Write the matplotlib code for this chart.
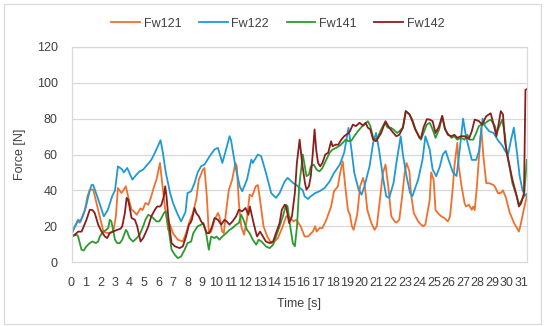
import matplotlib
matplotlib.use("Agg")
import matplotlib.pyplot as plt
from matplotlib.patches import Rectangle

plt.rcParams["font.family"] = ["Liberation Sans", "DejaVu Sans"]

# ---- data (time [s], force [N]) ----
t_fw121 = [0, 0.4, 0.57, 0.92, 1.1, 1.26, 1.5, 1.72, 2.0, 2.2, 2.5, 2.75, 2.9, 3.06, 3.2, 3.45,
           3.75, 3.9, 4.14, 4.3, 4.5, 4.76, 4.9, 5.1, 5.3, 5.5, 5.7, 5.86, 6.1, 6.28, 6.44, 6.67,
           6.78, 7.0, 7.33, 7.68, 7.9, 8.14, 8.37, 8.6, 8.78, 9.06, 9.17, 9.33, 9.47, 9.63, 9.86,
           10.1, 10.2, 10.39, 10.5, 10.67, 10.85, 11.08, 11.3, 11.4, 11.54, 11.7, 11.9, 12.09,
           12.28, 12.46, 12.7, 12.85, 13.0, 13.24, 13.5, 13.77, 14.0, 14.23, 14.57, 14.8, 15.0,
           15.3, 15.5, 15.8, 16.07, 16.3, 16.64, 16.8, 16.9, 17.1, 17.3, 17.57, 17.9, 18.1, 18.37,
           18.5, 18.7, 18.9, 19.06, 19.2, 19.33, 19.45, 19.7, 19.9, 20.1, 20.2, 20.4, 20.67, 20.9,
           21.05, 21.24, 21.47, 21.65, 21.84, 22.05, 22.28, 22.4, 22.6, 22.8, 22.97, 23.1, 23.3,
           23.4, 23.6, 23.9, 24.1, 24.27, 24.4, 24.7, 24.8, 24.97, 25.1, 25.3, 25.5, 25.7, 25.95,
           26.1, 26.3, 26.4, 26.6, 26.7, 26.9, 27.1, 27.2, 27.4, 27.6, 27.7, 27.8, 27.95, 28.1,
           28.25, 28.4, 28.6, 28.8, 29.1, 29.2, 29.4, 29.6, 29.75, 29.95, 30.2, 30.5, 30.85,
           31.0, 31.2, 31.4]
fw121 = [16.2, 22.7, 22, 29, 36.7, 40.4, 40.4, 33, 23.6, 17, 16.2, 16.6, 18, 25.5, 41.3, 38.5,
         42.3, 36.7, 29.2, 28.3, 26.4, 30, 29, 33, 32, 36.7, 42.3, 46, 55.3, 42, 31, 18,
         21, 16, 12.5, 11.5, 16.2, 22.7, 27.4, 34.8, 46, 51.6, 52.5, 36.7, 16.2, 17, 23.6,
         27.4, 25.5, 17, 16.2, 29, 40.4, 46, 55.3, 53.4, 33, 20, 15.3, 23.6,
         37.6, 36.7, 42.3, 43, 34.8, 20, 14.3, 10.6, 11.5, 13.4, 20, 25.5, 25.5,
         22.7, 23.6, 20, 14.3, 14.3, 17, 20, 17, 19, 19, 23.6, 31, 39.5, 42.3,
         48.8, 56.2, 40.4, 29, 26.4, 20, 18, 26.4, 42.3, 47, 44, 29, 21.8, 18,
         20, 33, 49.7, 54.4, 42.3, 25.5, 22.7, 22, 23.6, 36.7, 49.7, 55.3, 50.6,
         38.5, 27.4, 22.7, 20.9, 20, 21, 34.8, 50, 46, 29, 27, 25.5, 24.6, 22.7,
         25.5, 42.3, 53.4, 66.5, 53.4, 42, 33, 31, 32, 29.2, 31, 29, 42, 59,
         74.9, 59, 44, 44, 43, 42, 38.5, 38.5, 40, 36, 28, 22, 17,
         22, 30, 36.7]

t_fw122 = [0, 0.46, 0.62, 0.8, 1.0, 1.2, 1.38, 1.5, 1.84, 2.23, 2.5, 2.8, 3.0, 3.2, 3.5, 3.6,
           3.84, 4.2, 4.48, 4.7, 4.94, 5.3, 5.5, 5.75, 5.9, 6.14, 6.3, 6.5, 6.8, 7.0, 7.3, 7.56,
           7.86, 8.0, 8.25, 8.48, 8.7, 8.94, 9.17, 9.52, 9.86, 10.1, 10.4, 10.6, 10.9, 11.0, 11.3,
           11.6, 11.77, 12.1, 12.4, 12.5, 12.85, 13.08, 13.4, 13.77, 14.1, 14.35, 14.7, 14.9,
           15.3, 15.5, 15.95, 16.07, 16.3, 16.5, 16.8, 17.1, 17.45, 17.8, 18.1, 18.5, 18.8, 19.1,
           19.3, 19.5, 19.8, 20.0, 20.2, 20.55, 20.8, 21.0, 21.2, 21.5, 21.7, 21.9, 22.2, 22.4,
           22.7, 22.85, 23.1, 23.35, 23.5, 23.9, 24.2, 24.4, 24.7, 24.9, 25.15, 25.4, 25.6, 25.8,
           26.0, 26.3, 26.55, 26.8, 27.0, 27.2, 27.45, 27.6, 27.9, 28.1, 28.35, 28.5, 28.8, 29.1,
           29.4, 29.7, 29.9, 30.1, 30.3, 30.5, 30.7, 30.9, 31.1, 31.3, 31.4]
fw122 = [15.6, 23.6, 22.7, 26, 31, 38, 43, 43, 35, 25.5, 29, 36.7, 40, 53.4, 51.6, 50,
         52.5, 46, 48.8, 50.6, 51.6, 55, 57, 61, 63.7, 68, 61, 50, 38.5, 33, 27, 22.7,
         28, 38.5, 39.5, 44, 50, 53.5, 54.4, 59, 62.8, 63.7, 55.3, 61, 70.2, 68, 53.4,
         42.3, 39.5, 46, 57.2, 55.3, 60, 59, 50, 38.5, 35.8, 38.5, 45, 47,
         44, 43, 40, 36.7, 35.2, 36.7, 38.5, 39.5, 41.3, 45, 49.7, 54.4, 61, 74.9,
         62.8, 49.7, 40.4, 37.6, 42.3, 53.4, 66.5, 72, 62.8, 46, 36.7, 35.8, 44, 55.3,
         70.2, 60, 47.9, 38.5, 36.7, 46, 57, 70.2, 62.8, 51.6, 47.9, 53.4, 60, 62,
         57, 50, 48, 65, 80, 70, 62, 57, 57, 62, 80, 76, 73, 72,
         68, 65, 62, 60, 68, 75, 62, 48, 40, 37, 38]

t_fw141 = [0, 0.35, 0.45, 0.69, 0.85, 1.03, 1.26, 1.45, 1.68, 1.84, 1.95, 2.18, 2.4, 2.53, 2.64,
           2.75, 3.0, 3.15, 3.33, 3.5, 3.75, 3.84, 4.0, 4.25, 4.5, 4.7, 4.94, 5.1, 5.3, 5.5, 5.63,
           5.86, 6.05, 6.2, 6.37, 6.5, 6.67, 6.9, 7.13, 7.33, 7.56, 7.8, 8.0, 8.25, 8.4, 8.7, 8.94,
           9.1, 9.28, 9.47, 9.63, 9.86, 10.0, 10.2, 10.4, 10.67, 10.9, 11.1, 11.35, 11.54, 11.7,
           11.86, 12.1, 12.28, 12.5, 12.74, 12.9, 13.1, 13.4, 13.66, 13.9, 14.1, 14.35, 14.57,
           14.8, 14.9, 15.08, 15.26, 15.4, 15.55, 15.7, 15.95, 16.2, 16.37, 16.5, 16.7, 16.9, 17.1,
           17.3, 17.56, 17.8, 18.0, 18.25, 18.5, 18.7, 18.9, 19.1, 19.3, 19.5, 19.75, 20.0, 20.2,
           20.43, 20.6, 20.8, 21.05, 21.35, 21.6, 21.8, 22.0, 22.2, 22.45, 22.6, 22.85, 23.05,
           23.3, 23.5, 23.7, 24.0, 24.1, 24.27, 24.5, 24.7, 24.9, 25.1, 25.35, 25.56, 25.75,
           25.95, 26.2, 26.4, 26.6, 26.85, 27.1, 27.3, 27.45, 27.7, 27.9, 28.1, 28.4, 28.7, 28.9,
           29.2, 29.3, 29.5, 29.7, 29.9, 30.0, 30.2, 30.4, 30.7, 30.85, 31.0, 31.2, 31.4]
fw141 = [14.3, 15.3, 14.5, 6.9, 6.5, 8.8, 10.6, 11.5, 10.6, 11.5, 14.3, 17, 18, 19, 23.6,
         22.7, 12.5, 10.6, 10.6, 12.5, 18, 17, 13.4, 11.5, 13.4, 15.3, 20, 23.6, 26.4, 25.5, 24.6,
         22.7, 22.7, 24.6, 27.4, 28.3, 20, 6.9, 4, 2.2, 3.2, 6.9, 10.6, 11.5, 16.2, 20, 20.9,
         21.8, 16.2, 6.9, 14.3, 13.4, 14.3, 12.5, 14.3, 16.2, 18, 19, 20.9, 21.8, 26.4,
         23.6, 18, 16.2, 12.5, 9.7, 12.5, 11.5, 8.8, 7.8, 9.7, 14.3, 20, 25.5,
         32, 31, 20, 10.6, 8.8, 20, 42.3, 60, 47.9, 48.8, 53.4, 54.4, 51.6, 50.6,
         52.5, 57, 61, 62.8, 63.7, 65, 66.5, 68.3, 67.4, 67.8, 70.2, 73, 75.4, 76.7,
         78.6, 76, 69.3, 68.3, 74, 77.7, 75, 75, 74, 72, 73, 75, 84.2,
         82.4, 79.5, 74.5, 69.3, 68.3, 72, 76.7, 77.7, 74, 69.3, 74, 81.4, 74,
         71.7, 69.3, 70.2, 68.3, 69.3, 68.3, 71, 68.3, 68.3, 72, 76, 76.7, 78.6, 79.5,
         75.8, 72, 75.8, 79.5, 70, 61, 53.4, 44, 36.7, 32, 34, 36.7, 57]

t_fw142 = [0, 0.23, 0.46, 0.69, 0.8, 1.03, 1.26, 1.45, 1.6, 1.84, 2.07, 2.3, 2.46, 2.64, 2.87,
           3.15, 3.38, 3.5, 3.68, 3.8, 3.9, 4.0, 4.14, 4.37, 4.53, 4.76, 4.94, 5.1, 5.3, 5.5, 5.75,
           5.9, 6.1, 6.2, 6.37, 6.46, 6.55, 6.67, 6.9, 7.13, 7.45, 7.68, 7.9, 8.1, 8.2, 8.3, 8.48,
           8.6, 8.78, 8.94, 9.1, 9.33, 9.5, 9.7, 9.86, 10.1, 10.32, 10.55, 10.7, 10.9, 11.1, 11.35,
           11.54, 11.77, 12.0, 12.2, 12.3, 12.5, 12.7, 12.8, 13.0, 13.2, 13.4, 13.66, 13.9, 14.1,
           14.35, 14.5, 14.7, 14.8, 15.0, 15.2, 15.4, 15.54, 15.73, 15.9, 16.1, 16.2, 16.37, 16.5,
           16.64, 16.76, 16.87, 17.0, 17.15, 17.3, 17.5, 17.7, 17.9, 18.0, 18.2, 18.4, 18.6, 18.8,
           19.1, 19.2, 19.4, 19.6, 19.86, 20.1, 20.28, 20.43, 20.6, 20.8, 21.0, 21.35, 21.65, 21.9,
           22.2, 22.4, 22.6, 22.85, 23.05, 23.3, 23.5, 23.7, 24.0, 24.1, 24.27, 24.5, 24.7, 24.9,
           25.1, 25.35, 25.56, 25.75, 25.95, 26.2, 26.4, 26.6, 26.85, 27.1, 27.4, 27.6, 27.8, 28.1,
           28.3, 28.6, 28.9, 29.1, 29.3, 29.45, 29.6, 29.75, 29.9, 30.16, 30.4, 30.7, 30.85, 31.0,
           31.2, 31.3, 31.4]
fw142 = [14.3, 15.3, 17, 17, 19, 23.6, 29.2, 29, 27.4, 20.9, 17, 14.3, 13.4, 16.2, 17,
         18, 18.6, 20, 27.4, 35.8, 34.8, 31, 24.6, 23.6, 20, 11.5, 13.4, 16.2, 20, 25.5, 29.2,
         31, 31, 32, 36.7, 42.3, 36.7, 25.5, 10.6, 8.8, 7.8, 8.8, 14.3, 20.9, 21.8, 23.6, 30.2,
         27.4, 25.5, 22.7, 20.9, 16.2, 16.2, 20, 24.6, 23.6, 20.9, 23.6, 22.7, 20.9, 22.7, 25.5,
         29.2, 28.3, 30.2, 26.4, 31, 23.6, 17, 14.3, 17, 14.3, 11.5, 10.6, 11.5, 16.2,
         21.8, 29.2, 32, 31, 21.8, 25.5, 38.5, 55.3, 68.3, 55.3, 44, 40.4, 42.3, 47.9,
         61, 74, 62.8, 55.3, 53.4, 55.3, 60, 61, 67.4, 64.6, 65.5, 65.5, 68.3, 70.2,
         72, 73, 76.7, 75.8, 77.7, 76.2, 77.7, 75, 74, 68.3, 67.4, 72, 78.6, 75,
         72, 70.2, 71, 75, 84.2, 82.4, 78.6, 74, 69.3, 69.3, 75, 79.7, 79.5, 78.6,
         72, 75.8, 81.6, 74.5, 71, 70.2, 71, 69.3, 70.2, 70.2, 68.7, 73, 79.5, 78.6,
         76.7, 81.4, 83, 77, 70.2, 77, 84.2, 82.4, 66.5, 55.3, 46, 36.7, 31, 32.8,
         38.5, 96, 96.5]

series = [("Fw121", t_fw121, fw121, "#F0702C"),
          ("Fw122", t_fw122, fw122, "#1F9AD6"),
          ("Fw141", t_fw141, fw141, "#2E9A2E"),
          ("Fw142", t_fw142, fw142, "#8B1E1E")]

x_ticks = list(range(0, 32))
y_ticks = [0, 20, 40, 60, 80, 100, 120]

fig = plt.figure(figsize=(5.5, 3.26), dpi=100)
ax = fig.add_axes([0.130, 0.196, 0.828, 0.660])

for name, t, v, col in series:
    ax.plot(t, v, color=col, lw=1.3, label=name, solid_joinstyle="round")

ax.set_xlim(0, 31.4)
ax.set_ylim(0, 120)
ax.set_xticks(x_ticks)
ax.set_xticklabels([str(x) for x in x_ticks])
ax.set_yticks(y_ticks)
ax.tick_params(axis="both", length=0, labelsize=9, colors="#404040")
ax.tick_params(axis="x", pad=11)
ax.tick_params(axis="y", pad=10)
ax.grid(axis="y", color="#D9D9D9", lw=0.9)
ax.set_axisbelow(True)
for s in ax.spines.values():
    s.set_color("#D9D9D9")
    s.set_linewidth(0.9)

ax.set_xlabel("Time [s]", fontsize=9, color="#404040", labelpad=6)
ax.set_ylabel("Force [N]", fontsize=9, color="#404040", labelpad=8)

fig.legend(loc="center", bbox_to_anchor=(0.505, 0.927), ncol=4, frameon=False,
           fontsize=9, handlelength=2.3, handletextpad=0.3, columnspacing=1.4,
           labelcolor="#404040")

# outer chart border
fig.patches.append(Rectangle((0.007, 0.005), 0.977, 0.984, transform=fig.transFigure,
                             fill=False, edgecolor="#D9D9D9", lw=0.9))

fig.savefig("out.png", dpi=100)
